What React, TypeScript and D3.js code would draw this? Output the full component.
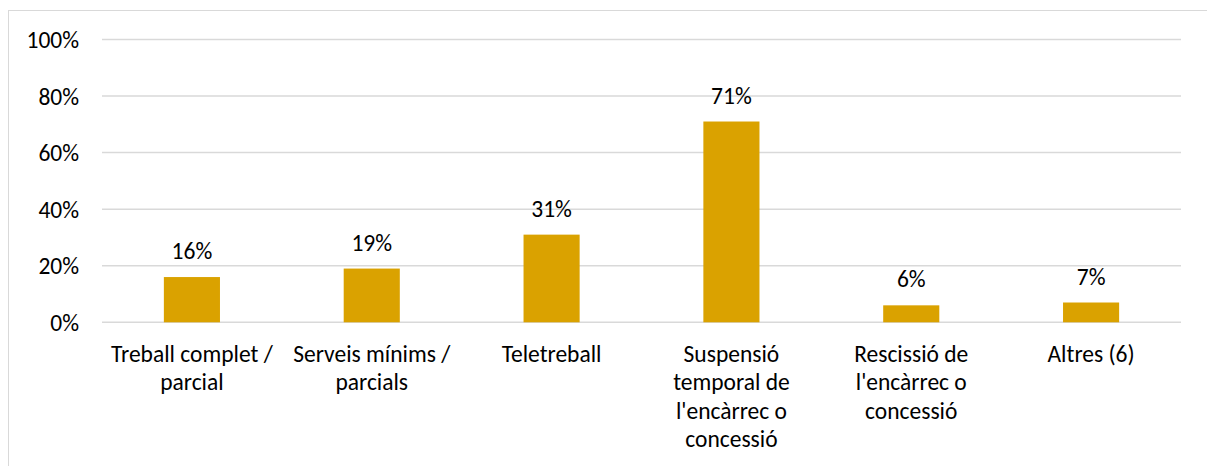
import React from "react";
import * as d3 from "d3";

const categories: string[] = [
  "Treball complet /\nparcial",
  "Serveis mínims /\nparcials",
  "Teletreball",
  "Suspensió\ntemporal de\nl'encàrrec o\nconcessió",
  "Rescissió de\nl'encàrrec o\nconcessió",
  "Altres (6)",
];
const values: number[] = [0.16, 0.19, 0.31, 0.71, 0.06, 0.07];
const yTicks: number[] = [0, 0.2, 0.4, 0.6, 0.8, 1.0];

const W = 1207;
const H = 466;
const FONT = "Carlito, Calibri, Lato, sans-serif";
const FS = 23.5;

export default function App() {
  const x = d3.scaleBand<string>().domain(categories).range([102, 1181]).padding(0);
  const y = d3.scaleLinear().domain([0, 1]).range([322.3, 39.5]);
  const barW = x.bandwidth() * 0.312;
  const pct = d3.format(".0%");

  return (
    <svg
      width={W}
      height={H}
      style={{ position: "absolute", left: 0, top: 0, background: "#fff" }}
      fontFamily={FONT}
    >
      <rect x={8.5} y={10.5} width={1250} height={500} fill="#fff" stroke="#d9d9d9" strokeWidth={1} />
      {yTicks.map((t) => (
        <g key={t}>
          <line x1={102} x2={1181} y1={y(t)} y2={y(t)} stroke="#d9d9d9" strokeWidth={1.5} />
          <text x={79} y={y(t)} dy="0.36em" textAnchor="end" fontSize={FS} fill="#000">
            {pct(t)}
          </text>
        </g>
      ))}
      {categories.map((c, i) => {
        const cx = (x(c) as number) + x.bandwidth() / 2;
        const v = values[i];
        return (
          <g key={c}>
            <rect x={cx - barW / 2} y={y(v)} width={barW} height={y(0) - y(v)} fill="#DAA200" />
            <text x={cx} y={y(v) - 18} textAnchor="middle" fontSize={FS} fill="#000">
              {pct(v)}
            </text>
            {c.split("\n").map((line, j) => (
              <text key={j} x={cx} y={362} dy={j * 28.3} textAnchor="middle" fontSize={FS} fill="#000">
                {line}
              </text>
            ))}
          </g>
        );
      })}
    </svg>
  );
}
